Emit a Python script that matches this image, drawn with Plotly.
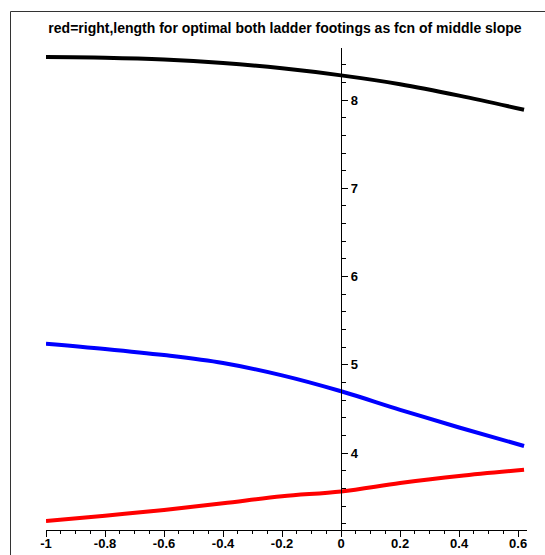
import plotly.graph_objects as go

slope = [-1.0, -0.8, -0.6, -0.4, -0.2, 0.0, 0.2, 0.4, 0.62]
black_len = [8.487, 8.48, 8.46, 8.42, 8.36, 8.28, 8.18, 8.05, 7.89]
blue_len = [5.24, 5.18, 5.11, 5.02, 4.88, 4.70, 4.49, 4.29, 4.08]
red_len = [3.23, 3.29, 3.355, 3.43, 3.51, 3.565, 3.66, 3.74, 3.81]

x_ticks = [-1, -0.8, -0.6, -0.4, -0.2, 0, 0.2, 0.4, 0.6]
x_tick_text = ["-1", "-0.8", "-0.6", "-0.4", "-0.2", "0", "0.2", "0.4", "0.6"]
y_ticks = [4, 5, 6, 7, 8]
y_tick_text = ["4", "5", "6", "7", "8"]

title = "red=right,length for optimal both ladder footings as fcn of middle slope"

XMIN, XMAX = -1.0, 0.63
YMIN, YMAX = 3.128, 8.59

fig = go.Figure()
for vals, col in [(black_len, "black"), (blue_len, "#0000ff"), (red_len, "#ff0000")]:
    fig.add_trace(go.Scatter(x=slope, y=vals, mode="lines",
                             line=dict(color=col, width=4, shape="spline"),
                             showlegend=False, hoverinfo="skip"))

W, H = 545, 555
L, T = 46, 48
R = W - 527
B = H - 530
pw, ph = W - L - R, H - T - B

tickfont = dict(family="Liberation Sans, Arial, sans-serif", size=13, color="black")

# outer frame (top and left edges of the original picture border)
fx = (10.5 - L) / pw
fy = (H - B - 11.5) / ph

fig.update_layout(
    width=W, height=H,
    margin=dict(l=L, r=R, t=T, b=B, autoexpand=False),
    paper_bgcolor="white", plot_bgcolor="white",
    title=dict(text="<b>" + title + "</b>", x=285 / W, xanchor="center",
               y=1 - 28 / H, yanchor="middle", xref="container", yref="container",
               font=dict(family="Liberation Sans, Arial, sans-serif", size=14, color="black")),
    xaxis=dict(range=[XMIN, XMAX], showgrid=False, zeroline=False,
               showline=True, linecolor="black", linewidth=1,
               ticks="outside", ticklen=6, tickwidth=1, tickcolor="black",
               tickvals=x_ticks, ticktext=["<b>" + t + "</b>" for t in x_tick_text],
               tickfont=tickfont, ticklabelstandoff=-5,
               minor=dict(dtick=0.05, tick0=0, ticks="outside", ticklen=3, tickcolor="black", showgrid=False)),
    yaxis=dict(range=[YMIN, YMAX], showgrid=False, zeroline=False,
               anchor="free", position=(0 - XMIN) / (XMAX - XMIN), side="right",
               showline=True, linecolor="black", linewidth=1,
               ticks="outside", ticklen=6, tickwidth=1, tickcolor="black",
               tickvals=y_ticks, ticktext=["<b>" + t + "</b>" for t in y_tick_text],
               tickfont=tickfont,
               minor=dict(dtick=0.2, tick0=0, ticks="outside", ticklen=4, tickcolor="black", showgrid=False)),
    shapes=[dict(type="rect", xref="paper", yref="paper",
                 x0=fx, x1=1.2, y0=-0.2, y1=fy,
                 line=dict(color="#333333", width=1), fillcolor="rgba(0,0,0,0)",
                 layer="above")],
)

fig.write_html("out.html", post_script="document.body.style.margin='0px';",
               config={"displayModeBar": False})
